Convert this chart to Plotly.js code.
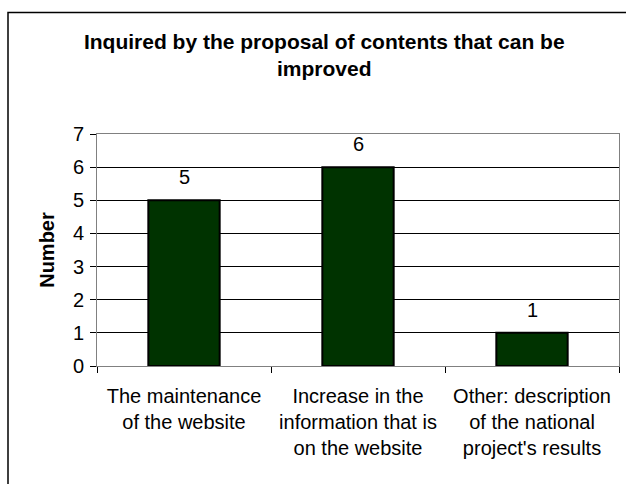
<!DOCTYPE html>
<html>
<head>
<meta charset="utf-8">
<script src="https://cdn.plot.ly/plotly-3.0.1.min.js"></script>
<style>
html,body{margin:0;padding:0;background:#fff;}
#chart{width:626px;height:484px;}
</style>
</head>
<body>
<div id="chart"></div>
<script>
const categories = [
  "The maintenance<br>of the website",
  "Increase in the<br>information that is<br>on the website",
  "Other: description<br>of the national<br>project's results"
];
const values = [5, 6, 1];
const yTicks = [0, 1, 2, 3, 4, 5, 6, 7];
const chartTitle = "Inquired by the proposal of contents that can be<br>improved";
const yTitle = "Number";

const FONT = "Liberation Sans, Arial, sans-serif";

const trace = {
  type: "bar",
  x: categories,
  y: values,
  marker: {color: "#003300", line: {color: "#000000", width: 2}},
  hoverinfo: "none"
};

const annotations = categories.map((c, i) => ({
  x: c, y: values[i], xref: "x", yref: "y",
  text: String(values[i]),
  showarrow: false, yanchor: "bottom", yshift: 10,
  font: {family: FONT, size: 20, color: "#000"}
}));

const layout = {
  width: 626, height: 484,
  margin: {l: 97, r: 7, t: 134, b: 118, pad: 0},
  paper_bgcolor: "#ffffff",
  plot_bgcolor: "#ffffff",
  font: {family: FONT, size: 20, color: "#000"},
  showlegend: false,
  bargap: 0.59,
  title: {
    text: "<b>" + chartTitle + "</b>",
    font: {family: FONT, size: 21, color: "#000"},
    xref: "container", x: 0.518, xanchor: "center",
    yref: "container", y: 1 - 49/484, yanchor: "top"
  },
  xaxis: {
    type: "category",
    showline: true, linecolor: "#808080", linewidth: 1, mirror: true,
    ticks: "outside", tickson: "boundaries", ticklen: 6, tickcolor: "#000",
    showgrid: false,
    ticklabelstandoff: 12,
    tickfont: {family: FONT, size: 20, color: "#000"},
    tickangle: 0
  },
  yaxis: {
    range: [0, 7], tickvals: yTicks, ticktext: yTicks.map(String),
    showline: true, linecolor: "#808080", linewidth: 1, mirror: true,
    ticks: "outside", ticklen: 6, tickcolor: "#000",
    showgrid: true, gridcolor: "#000000", gridwidth: 1,
    zeroline: false,
    ticklabelstandoff: 2,
    tickfont: {family: FONT, size: 20, color: "#000"},
    title: {text: "<b>" + yTitle + "</b>", font: {family: FONT, size: 20, color: "#000"}, standoff: 12}
  },
  annotations: annotations,
  shapes: [{
    type: "rect", xref: "paper", yref: "paper",
    x0: (8 - 97) / 522, x1: 1.2,
    y0: -1, y1: (366 - 12.5) / 232,
    line: {color: "#000", width: 1.5}, fillcolor: "rgba(0,0,0,0)", layer: "below"
  }]
};

Plotly.newPlot("chart", [trace], layout, {staticPlot: true, displayModeBar: false});
</script>
</body>
</html>
